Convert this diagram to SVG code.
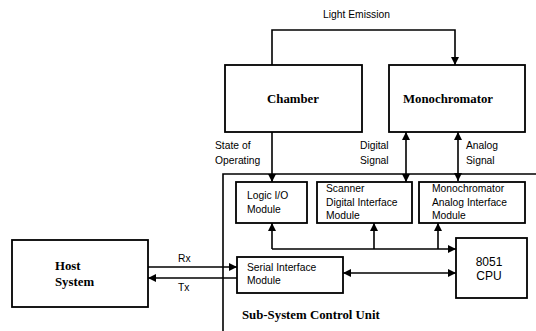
<svg xmlns="http://www.w3.org/2000/svg" width="536" height="331" viewBox="0 0 536 331">
<defs>
<marker id="ah" viewBox="0 0 10 10" refX="10" refY="5" markerWidth="9" markerHeight="8" markerUnits="userSpaceOnUse" orient="auto-start-reverse">
<path d="M0,0 L10,5 L0,10 z" fill="#000"/>
</marker>
<style>
.box{fill:#fff;stroke:#000;stroke-width:1.8}
.ln{fill:none;stroke:#000;stroke-width:1.6}
.t{font-family:"Liberation Sans",Arial,sans-serif;font-size:10.3px;fill:#000}
.b{font-family:"Liberation Serif","Times New Roman",serif;font-size:12.8px;font-weight:bold;fill:#000}
</style>
</defs>
<rect width="536" height="331" fill="#fff"/>
<g id="connectors">
<polyline class="ln" points="272,65 272,30 455,30 455,65" marker-end="url(#ah)"/>
<line class="ln" x1="272" y1="132" x2="272" y2="182" marker-end="url(#ah)"/>
<line class="ln" x1="406" y1="132" x2="406" y2="182" marker-start="url(#ah)" marker-end="url(#ah)"/>
<line class="ln" x1="458" y1="132" x2="458" y2="181" marker-start="url(#ah)" marker-end="url(#ah)"/>
<polyline class="ln" points="272,249 456,249" marker-end="url(#ah)"/>
<line class="ln" x1="272" y1="249" x2="272" y2="223" marker-end="url(#ah)"/>
<line class="ln" x1="374" y1="249" x2="374" y2="223" marker-end="url(#ah)"/>
<line class="ln" x1="438" y1="249" x2="438" y2="223" marker-end="url(#ah)"/>
<line class="ln" x1="343" y1="273" x2="456" y2="273" marker-start="url(#ah)" marker-end="url(#ah)"/>
<line class="ln" x1="148" y1="267" x2="237" y2="267" marker-end="url(#ah)"/>
<line class="ln" x1="237" y1="278" x2="148" y2="278" marker-end="url(#ah)"/>
</g>
<g id="labels">
<text class="t" x="323" y="18">Light Emission</text>
<text class="t" x="215" y="149">State of</text>
<text class="t" x="215" y="164">Operating</text>
<text class="t" x="360" y="149">Digital</text>
<text class="t" x="360" y="164">Signal</text>
<text class="t" x="466" y="149">Analog</text>
<text class="t" x="466" y="164">Signal</text>
<text class="t" x="178" y="262">Rx</text>
<text class="t" x="178" y="291">Tx</text>
</g>
<g id="subsystem">
<polyline class="ln" points="223,331 223,174 536,174"/>
<text class="b" x="242" y="319">Sub-System Control Unit</text>
</g>
<g id="chamber">
<rect class="box" x="225" y="65" width="137" height="67"/>
<text class="b" x="293" y="103" text-anchor="middle">Chamber</text>
</g>
<g id="monochromator">
<rect class="box" x="389" y="65" width="136" height="67"/>
<text class="b" x="448" y="103" text-anchor="middle">Monochromator</text>
</g>
<g id="logic-io">
<rect class="box" x="236" y="182" width="71" height="41"/>
<text class="t" x="247" y="199">Logic I/O</text>
<text class="t" x="247" y="213">Module</text>
</g>
<g id="scanner">
<rect class="box" x="317" y="182" width="95" height="41"/>
<text class="t" x="326" y="192">Scanner</text>
<text class="t" x="326" y="206">Digital Interface</text>
<text class="t" x="326" y="219">Module</text>
</g>
<g id="mono-analog">
<rect class="box" x="419" y="182" width="106" height="41"/>
<text class="t" x="432" y="192">Monochromator</text>
<text class="t" x="432" y="206">Analog Interface</text>
<text class="t" x="432" y="219">Module</text>
</g>
<g id="cpu">
<rect class="box" x="456" y="238" width="71" height="60"/>
<text class="t" x="489" y="266" text-anchor="middle" style="font-size:12px">8051</text>
<text class="t" x="489" y="280" text-anchor="middle" style="font-size:12px">CPU</text>
</g>
<g id="serial">
<rect class="box" x="237" y="257" width="106" height="36"/>
<text class="t" x="247" y="271">Serial Interface</text>
<text class="t" x="247" y="284">Module</text>
</g>
<g id="host">
<rect class="box" x="12" y="240" width="136" height="67"/>
<text class="b" x="55" y="270">Host</text>
<text class="b" x="55" y="286">System</text>
</g>
</svg>
